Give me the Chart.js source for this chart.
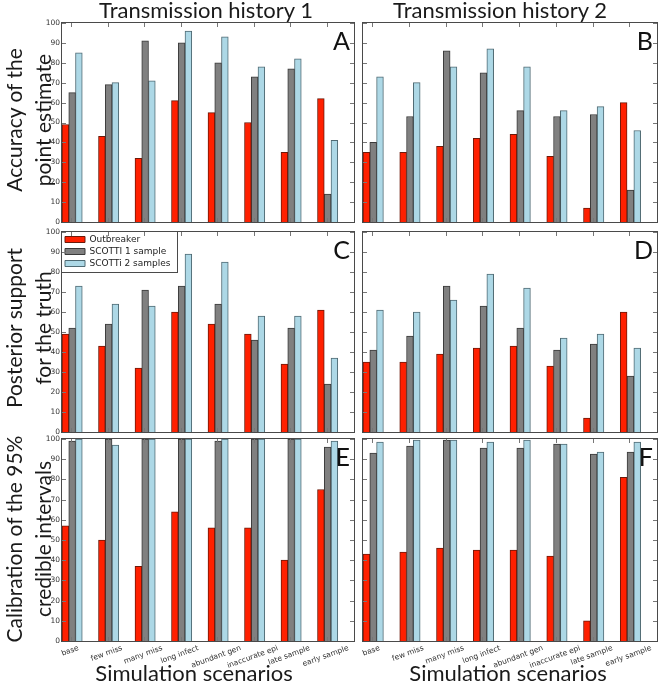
<!DOCTYPE html>
<html>
<head>
<meta charset="utf-8">
<script src="https://cdn.jsdelivr.net/npm/chart.js@4.4.1/dist/chart.umd.min.js"></script>
<style>
    html, body { margin: 0; padding: 0; background: #fff; overflow: hidden; }
    #figure { position: relative; width: 660px; height: 686px; overflow: hidden; font-family: Lato, "Open Sans", sans-serif; color: #1a1a1a; }
    #figure canvas { position: absolute; }
    .big { position: absolute; font-size: 22px; line-height: 22px; white-space: nowrap; }
    .col-title { transform: translateX(-50%); }
    .row-title { font-size: 21px; transform: translate(-50%, -50%) rotate(-90deg); text-align: center; line-height: 29px; }
</style>
</head>
<body>
<div id="figure">
    <div class="big col-title" style="left:206px;top:-1px">Transmission history 1</div>
    <div class="big col-title" style="left:500px;top:-1px">Transmission history 2</div>
    <div class="big row-title" style="left:28px;top:120px">Accuracy of the<br>point estimate</div>
    <div class="big row-title" style="left:28px;top:328px">Posterior support<br>for the truth</div>
    <div class="big row-title" style="left:28px;top:539px">Calibration of the 95%<br>credible intervals</div>
    <div class="big col-title" style="left:194px;top:662px">Simulation scenarios</div>
    <div class="big col-title" style="left:508px;top:662px">Simulation scenarios</div>
</div>
<script>
// Simulation scenarios and series
const scenarios = ['base', 'few miss', 'many miss', 'long infect', 'abundant gen', 'inaccurate epi', 'late sample', 'early sample'];
const seriesNames = ['Outbreaker', 'SCOTTI 1 sample', 'SCOTTi 2 samples'];
const yTickValues = [0, 10, 20, 30, 40, 50, 60, 70, 80, 90, 100];

// A - accuracy, history 1
const accuracyH1Outbreaker = [49, 43, 32, 61, 55, 50, 35, 62];
const accuracyH1Scotti1 = [65, 69, 91, 90, 80, 73, 77, 14];
const accuracyH1Scotti2 = [85, 70, 71, 96, 93, 78, 82, 41];
// B - accuracy, history 2
const accuracyH2Outbreaker = [35, 35, 38, 42, 44, 33, 7, 60];
const accuracyH2Scotti1 = [40, 53, 86, 75, 56, 53, 54, 16];
const accuracyH2Scotti2 = [73, 70, 78, 87, 78, 56, 58, 46];
// C - posterior support, history 1
const supportH1Outbreaker = [49, 43, 32, 60, 54, 49, 34, 61];
const supportH1Scotti1 = [52, 54, 71, 73, 64, 46, 52, 24];
const supportH1Scotti2 = [73, 64, 63, 89, 85, 58, 58, 37];
// D - posterior support, history 2
const supportH2Outbreaker = [35, 35, 39, 42, 43, 33, 7, 60];
const supportH2Scotti1 = [41, 48, 73, 63, 52, 41, 44, 28];
const supportH2Scotti2 = [61, 60, 66, 79, 72, 47, 49, 42];
// E - calibration, history 1
const calibH1Outbreaker = [57, 50, 37, 64, 56, 56, 40, 75];
const calibH1Scotti1 = [99, 100, 100, 100, 99, 100, 100, 96];
const calibH1Scotti2 = [100, 97, 100, 100, 100, 100, 100, 99];
// F - calibration, history 2
const calibH2Outbreaker = [43, 44, 46, 45, 45, 42, 10, 81];
const calibH2Scotti1 = [93, 96.5, 99.5, 95.5, 95.5, 97.5, 92.5, 93.5];
const calibH2Scotti2 = [98.5, 99.5, 99.5, 98.5, 99.5, 97.5, 93.5, 98.5];

const barFill = ['#ff2000', '#808080', '#add8e6'];
const barEdge = ['#6b1a0a', '#3a3a3a', '#4f6a73'];
const barWidth = 0.185;      // in scenario units, bars sit side by side from the left of each slot
const tickOffset = 0.25;

const colBox = [{ left: 62, width: 292 }, { left: 363, width: 294 }];
const rowBox = [{ top: 23, height: 199 }, { top: 232, height: 200 }, { top: 439, height: 202 }];

const panels = [
    { letter: 'A', row: 0, col: 0, series: [accuracyH1Outbreaker, accuracyH1Scotti1, accuracyH1Scotti2] },
    { letter: 'B', row: 0, col: 1, series: [accuracyH2Outbreaker, accuracyH2Scotti1, accuracyH2Scotti2] },
    { letter: 'C', row: 1, col: 0, series: [supportH1Outbreaker, supportH1Scotti1, supportH1Scotti2], legend: true },
    { letter: 'D', row: 1, col: 1, series: [supportH2Outbreaker, supportH2Scotti1, supportH2Scotti2] },
    { letter: 'E', row: 2, col: 0, series: [calibH1Outbreaker, calibH1Scotti1, calibH1Scotti2] },
    { letter: 'F', row: 2, col: 1, series: [calibH2Outbreaker, calibH2Scotti1, calibH2Scotti2] }
];

const legendFont = 9, legendBoxH = 6, legendPad = 3;

// box, inward ticks, panel letter, rotated scenario labels, legend frame
const framePlugin = {
    id: 'frame',
    beforeDraw(chart) {
        // the chartArea legend gets its top reset to 0, pin it to the plot box
        const lg = chart.legend;
        if (lg && chart.options.plugins.legend.display) {
            const h = lg.height;
            lg.top = chart.chartArea.top;
            lg.bottom = lg.top + h;
        }
    },
    afterDraw(chart, args, opts) {
        const { ctx, chartArea: a } = chart;
        const x = chart.scales.x, y = chart.scales.y;
        ctx.save();

        ctx.strokeStyle = '#777';
        ctx.lineWidth = 1;
        ctx.beginPath();
        y.ticks.forEach(t => {
            const py = Math.round(y.getPixelForValue(t.value)) + 0.5;
            ctx.moveTo(a.left, py); ctx.lineTo(a.left + 4, py);
            ctx.moveTo(a.right - 4, py); ctx.lineTo(a.right, py);
        });
        scenarios.forEach((s, i) => {
            const px = Math.round(x.getPixelForValue(i + tickOffset)) + 0.5;
            ctx.moveTo(px, a.top); ctx.lineTo(px, a.top + 4);
            ctx.moveTo(px, a.bottom - 4); ctx.lineTo(px, a.bottom);
        });
        ctx.stroke();

        ctx.strokeStyle = '#4a4a4a';
        ctx.strokeRect(a.left - 0.5, a.top - 0.5, a.width + 1, a.height + 1);

        if (chart.options.plugins.legend.display) {
            const boxes = chart.legend.legendHitBoxes;
            const right = Math.max(...boxes.map(b => b.left + b.width)) + 6;
            const bottom = a.top + legendPad + boxes.length * (Math.max(legendFont, legendBoxH) + legendPad) + 1;
            ctx.strokeRect(a.left - 0.5, a.top - 0.5, Math.round(right - a.left) + 1, Math.round(bottom - a.top) + 1);
        }

        ctx.fillStyle = '#111';
        ctx.font = '25px Lato';
        ctx.textAlign = 'right';
        ctx.textBaseline = 'alphabetic';
        ctx.fillText(opts.letter, a.right - 4, a.top + 27);

        if (opts.xLabels) {
            const angle = 20 * Math.PI / 180;
            const size = 7.5;
            ctx.font = size + 'px "DejaVu Sans"';
            ctx.fillStyle = '#333';
            ctx.textAlign = 'center';
            ctx.textBaseline = 'middle';
            scenarios.forEach((s, i) => {
                const px = x.getPixelForValue(i + tickOffset) - 1;
                const len = ctx.measureText(s).width;
                const bh = len * Math.sin(angle) + size * 1.1 * Math.cos(angle);
                ctx.save();
                ctx.translate(px, a.bottom + 3 + bh / 2);
                ctx.rotate(-angle);
                ctx.fillText(s, 0, 0);
                ctx.restore();
            });
        }
        ctx.restore();
    }
};

function buildPanel(p) {
    const col = colBox[p.col], row = rowBox[p.row];
    const showY = p.col === 0;
    const showX = p.row === 2;
    const axisW = showY ? 26 : 0;
    const pad = { left: showY ? 0 : 8, right: p.col === 0 ? 8 : 3, top: 8, bottom: showX ? 40 : 8 };

    const canvas = document.createElement('canvas');
    const w = pad.left + axisW + col.width + pad.right;
    const h = pad.top + row.height + pad.bottom;
    canvas.width = w;
    canvas.height = h;
    canvas.style.width = w + 'px';
    canvas.style.height = h + 'px';
    canvas.style.left = (col.left - axisW - pad.left) + 'px';
    canvas.style.top = (row.top - pad.top) + 'px';
    document.getElementById('figure').prepend(canvas);

    const datasets = p.series.map((vals, k) => ({
        label: seriesNames[k],
        data: vals.map((v, i) => ({ x: i + barWidth * (k + 0.5), y: v })),
        backgroundColor: barFill[k],
        borderColor: barEdge[k],
        borderWidth: 1,
        grouped: false,
        barPercentage: 1,
        categoryPercentage: 1
    }));

    new Chart(canvas, {
        type: 'bar',
        data: { datasets },
        options: {
            responsive: false,
            animation: false,
            layout: { padding: pad },
            scales: {
                x: {
                    type: 'linear', min: 0, max: scenarios.length, offset: false,
                    display: false, grid: { offset: false }
                },
                y: {
                    min: 0, max: 100,
                    display: showY,
                    afterFit: s => { if (showY) s.width = axisW; },
                    afterBuildTicks: s => { s.ticks = yTickValues.map(v => ({ value: v })); },
                    grid: { display: false, drawTicks: false },
                    border: { display: false },
                    ticks: { padding: 2, color: '#333', font: { family: 'DejaVu Sans', size: 7.5 } }
                }
            },
            plugins: {
                tooltip: { enabled: false },
                legend: {
                    display: !!p.legend,
                    position: 'chartArea',
                    align: 'start',
                    labels: {
                        boxWidth: 20, boxHeight: legendBoxH, padding: legendPad, color: '#222',
                        font: { family: 'DejaVu Sans', size: legendFont }
                    }
                },
                frame: { letter: p.letter, xLabels: showX }
            }
        },
        plugins: [framePlugin]
    });
}

panels.forEach(buildPanel);
</script>
</body>
</html>
